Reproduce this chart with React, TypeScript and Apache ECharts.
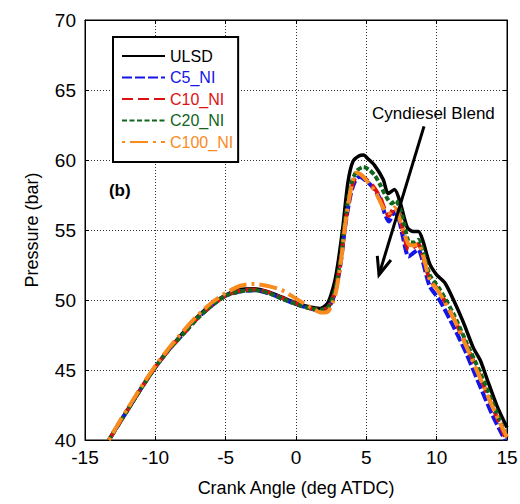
import React, { useEffect, useRef } from "react";
import * as echarts from "echarts";

const FONT = "'Liberation Sans', Arial, Helvetica, sans-serif";

const seriesNames = ["ULSD", "C5_NI", "C10_NI", "C20_NI", "C100_NI"];
const seriesColors = ["#000000", "#1414e6", "#e01010", "#11651c", "#f98b1f"];

const ulsdX = [-13.3, -12.5, -12, -11, -10, -9, -8, -7, -6, -5, -4, -3, -2, -1, 0, 1, 1.7, 2.2, 2.5, 2.77, 2.98, 3.33, 3.69, 4.05, 4.5, 4.8, 5.1, 5.6, 6.2, 6.55, 7.0, 7.4, 7.9, 8.3, 8.7, 9.0, 9.5, 10.0, 10.6, 11.2, 11.9, 12.6, 13.1, 13.6, 14.3, 15.0];
const ulsdY = [40, 41.3, 42.1, 43.7, 45.2, 46.5, 47.7, 48.8, 49.7, 50.35, 50.75, 50.8, 50.6, 50.2, 49.8, 49.5, 49.4, 49.7, 50.4, 51.4, 52.6, 55.2, 58.4, 59.9, 60.3, 60.35, 60.1, 59.6, 58.6, 57.6, 57.9, 57.0, 55.2, 54.9, 54.9, 54.3, 52.6, 51.8, 51.2, 50.0, 48.4, 46.6, 45.7, 44.3, 42.4, 40.9];

const c5X = [-13.3, -12.5, -12, -11, -10, -9, -8, -7, -6, -5, -4, -3, -2, -1, 0, 1, 1.8, 2.3, 2.8, 3.2, 3.5, 3.9, 4.2, 4.5, 5.0, 5.5, 6.0, 6.3, 6.6, 7.0, 7.3, 7.6, 8.0, 8.4, 8.7, 9.0, 9.5, 10.2, 11.2, 12.1, 13.1, 14.0, 14.7, 14.85];
const c5Y = [40, 41.3, 42.1, 43.7, 45.2, 46.5, 47.6, 48.7, 49.6, 50.3, 50.6, 50.7, 50.5, 50.1, 49.7, 49.4, 49.2, 49.4, 50.6, 52.8, 55.3, 57.6, 58.5, 58.8, 58.5, 58.0, 57.2, 56.2, 55.6, 56.3, 55.8, 54.5, 53.1, 53.4, 53.6, 52.8, 51.0, 50.0, 48.1, 46.2, 43.8, 41.7, 40.3, 40];

const c10X = [-13.3, -12.5, -12, -11, -10, -9, -8, -7, -6, -5, -4, -3, -2, -1, 0, 1, 1.8, 2.3, 2.8, 3.2, 3.5, 3.9, 4.2, 4.6, 5.0, 5.5, 6.0, 6.3, 6.6, 7.0, 7.3, 7.6, 8.0, 8.4, 8.7, 9.0, 9.5, 10.2, 11.2, 12.1, 13.1, 14.0, 14.8, 15.0];
const c10Y = [40, 41.3, 42.1, 43.7, 45.2, 46.5, 47.6, 48.7, 49.6, 50.3, 50.65, 50.75, 50.55, 50.15, 49.75, 49.4, 49.3, 49.5, 50.7, 53.0, 55.5, 57.8, 58.7, 58.9, 58.6, 58.1, 57.3, 56.5, 56.0, 56.6, 56.2, 55.0, 53.6, 53.8, 54.0, 53.2, 51.5, 50.6, 48.7, 46.8, 44.5, 42.3, 40.4, 40.0];

const c20X = [-13.3, -12.5, -12, -11, -10, -9, -8, -7, -6, -5, -4, -3, -2, -1, 0, 1, 1.8, 2.3, 2.8, 3.2, 3.5, 3.9, 4.3, 4.8, 5.2, 5.6, 6.0, 6.4, 6.8, 7.1, 7.4, 7.7, 8.0, 8.4, 8.7, 9.0, 9.5, 10.2, 11.2, 12.1, 13.1, 14.0, 14.9, 15.0];
const c20Y = [40, 41.3, 42.1, 43.7, 45.2, 46.5, 47.6, 48.7, 49.6, 50.3, 50.6, 50.7, 50.5, 50.1, 49.7, 49.4, 49.3, 49.5, 50.8, 53.2, 55.8, 58.2, 59.2, 59.5, 59.3, 58.9, 58.2, 57.4, 56.9, 57.1, 56.5, 55.4, 54.2, 54.1, 54.3, 53.6, 51.8, 50.8, 49.0, 47.0, 44.8, 42.6, 40.4, 40.2];

const c100X = [-13.3, -12.5, -12, -11, -10, -9, -8, -7, -6, -5, -4, -3, -2, -1, 0, 1, 1.8, 2.3, 2.8, 3.2, 3.5, 3.9, 4.3, 4.7, 5.2, 5.6, 6.0, 6.3, 6.6, 7.0, 7.3, 7.6, 8.0, 8.4, 8.7, 9.0, 9.5, 10.2, 11.2, 12.1, 13.1, 14.0, 14.8, 15.0];
const c100Y = [40, 41.4, 42.2, 43.8, 45.3, 46.6, 47.8, 48.9, 49.8, 50.5, 51.0, 51.15, 51.0, 50.7, 50.1, 49.5, 49.1, 49.2, 50.4, 52.8, 55.4, 57.9, 59.1, 58.9, 58.3, 57.8, 57.0, 56.4, 56.2, 56.6, 56.0, 55.0, 54.0, 53.9, 54.0, 53.3, 51.5, 50.5, 48.7, 46.7, 44.4, 42.3, 40.6, 40.2];

const xValues = [ulsdX, c5X, c10X, c20X, c100X];
const yValues = [ulsdY, c5Y, c10Y, c20Y, c100Y];
const dashTypes: any[] = ["solid", [10, 3], [11, 5], [5, 2.5], [3, 5, 18, 5]];
const lineWidths = [3.5, 4, 4, 4, 4];

const arrowFrom = [9.1, 62.4];
const arrowTo = [5.9, 51.8];
const annotationText = "Cyndiesel Blend";
const annotationAt = [5.4, 63.3];
const panelLabel = "(b)";
const panelAt = [-13.3, 57.8];

export default function App() {
  const ref = useRef<HTMLDivElement>(null);
  useEffect(() => {
    if (!ref.current) return;
    const chart = echarts.init(ref.current, null, { renderer: "svg" });
    const axisCommon = {
      type: "value" as const,
      axisLine: { show: true, onZero: false, lineStyle: { color: "#000", width: 1 } },
      axisTick: { show: true, inside: true, length: 4, lineStyle: { color: "#000" } },
    };
    const option: any = {
      animation: false,
      backgroundColor: "#fff",
      grid: {
        left: 85,
        right: 13,
        top: 20,
        bottom: 64,
        containLabel: false,
        outerBoundsMode: "none",
        show: true,
        borderColor: "#000",
        borderWidth: 1,
      },
      xAxis: [
        {
          ...axisCommon,
          min: -15,
          max: 15,
          interval: 5,
          name: "Crank Angle (deg ATDC)",
          nameLocation: "middle",
          nameGap: 39,
          nameTextStyle: { fontSize: 18, color: "#000", fontFamily: FONT },
          axisLabel: { fontSize: 19, color: "#000", fontFamily: FONT, margin: 8 },
          splitLine: { show: true, lineStyle: { color: "#333", width: 1, type: [1, 2] } },
        },
        {
          ...axisCommon,
          position: "top",
          min: -15,
          max: 15,
          interval: 5,
          axisLabel: { show: false },
          splitLine: { show: false },
        },
      ],
      yAxis: [
        {
          ...axisCommon,
          min: 40,
          max: 70,
          interval: 5,
          name: "Pressure (bar)",
          nameLocation: "middle",
          nameGap: 44,
          nameTextStyle: { fontSize: 18, color: "#000", fontFamily: FONT },
          axisLabel: { fontSize: 19, color: "#000", fontFamily: FONT, margin: 9 },
          splitLine: { show: true, lineStyle: { color: "#333", width: 1, type: [1, 2] } },
        },
        {
          ...axisCommon,
          position: "right",
          min: 40,
          max: 70,
          interval: 5,
          axisLabel: { show: false },
          splitLine: { show: false },
        },
      ],
      legend: {
        orient: "vertical",
        left: 113,
        top: 37,
        itemWidth: 43,
        itemHeight: 14,
        itemGap: 5.5,
        padding: [11, 5, 12, 8],
        borderColor: "#000",
        borderWidth: 2,
        borderRadius: 0,
        backgroundColor: "#fff",
        itemStyle: { opacity: 0 },
        textStyle: { fontSize: 16, fontFamily: FONT },
        data: seriesNames.map((n, i) => ({ name: n, textStyle: { color: seriesColors[i] } })),
      },
      series: seriesNames.map((name, i) => ({
        name,
        type: "line",
        showSymbol: false,
        symbol: "none",
        smooth: 0.25,
        color: seriesColors[i],
        lineStyle: { color: seriesColors[i], width: lineWidths[i], type: dashTypes[i], cap: "butt" },
        data: xValues[i].map((x, j) => [x, yValues[i][j]]),
        z: 2 + i,
      })),
    };
    chart.setOption(option);

    const a = chart.convertToPixel({ gridIndex: 0 }, arrowFrom) as number[];
    const b = chart.convertToPixel({ gridIndex: 0 }, arrowTo) as number[];
    const t = chart.convertToPixel({ gridIndex: 0 }, annotationAt) as number[];
    const pb = chart.convertToPixel({ gridIndex: 0 }, panelAt) as number[];
    const dx = a[0] - b[0];
    const dy = a[1] - b[1];
    const len = Math.sqrt(dx * dx + dy * dy);
    const ux = dx / len;
    const uy = dy / len;
    const th = (22 * Math.PI) / 180;
    const wl = 19;
    const w1 = [b[0] + wl * (ux * Math.cos(th) - uy * Math.sin(th)), b[1] + wl * (ux * Math.sin(th) + uy * Math.cos(th))];
    const w2 = [b[0] + wl * (ux * Math.cos(th) + uy * Math.sin(th)), b[1] + wl * (-ux * Math.sin(th) + uy * Math.cos(th))];

    chart.setOption({
      graphic: [
        {
          type: "line",
          z: 100,
          shape: { x1: a[0], y1: a[1], x2: b[0], y2: b[1] },
          style: { stroke: "#000", lineWidth: 3 },
        },
        {
          type: "polyline",
          z: 100,
          shape: { points: [w1, [b[0], b[1]], w2] },
          style: { stroke: "#000", lineWidth: 3, fill: null },
        },
        {
          type: "text",
          z: 100,
          x: t[0],
          y: t[1],
          style: { text: annotationText, fontSize: 17, fontFamily: FONT, fill: "#000", textVerticalAlign: "middle" },
        },
        {
          type: "text",
          z: 100,
          x: pb[0],
          y: pb[1],
          style: { text: panelLabel, fontSize: 17, fontWeight: "bold", fontFamily: FONT, fill: "#000", textVerticalAlign: "middle" },
        },
      ],
    });

    return () => chart.dispose();
  }, []);
  return <div ref={ref} style={{ position: "absolute", left: 0, top: 0, width: 520, height: 504 }} />;
}
